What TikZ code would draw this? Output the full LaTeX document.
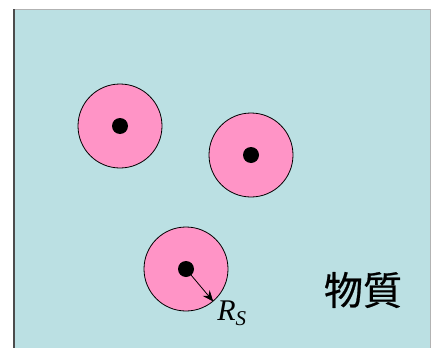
\documentclass[tikz,border=0pt]{standalone}
\usepackage{fontspec}
\setmainfont{Liberation Serif}
\newfontfamily\jpfont[FakeBold=0.6]{Noto Sans CJK JP}
\usetikzlibrary{arrows.meta}
\definecolor{matter}{RGB}{187,224,227}
\definecolor{shell}{RGB}{255,148,198}
\tikzset{
	shellball/.style={circle, draw=black, fill=shell, line width=0.8pt, minimum size=84pt, inner sep=0pt},
	core/.style={circle, fill=black, minimum size=16pt, inner sep=0pt},
}
\begin{document}
\begin{tikzpicture}[x=1pt, y=-1pt, >={Stealth[length=11pt,width=9pt]}, line join=round]
	\useasboundingbox (0,0) rectangle (431,348);
	\fill[matter] (14,9) rectangle (430,350);
	\draw[color=gray!60, line width=1pt] (14,9) -- (430,9) -- (430,350);
	\draw[color=black!70, line width=1.5pt] (14,9) -- (14,350);
	% three spheres
	\node[shellball] (s1) at (120,126) {};
	\node[shellball] (s2) at (251,155) {};
	\node[shellball] (s3) at (186,269) {};
	\node[core] (c1) at (s1.center) {};
	\node[core] (c2) at (s2.center) {};
	\node[core] (c3) at (s3.center) {};
	\coordinate (rim) at (s3.-50);
	\draw[->, line width=0.8pt] (c3.center) -- (rim);
	\node[font=\fontsize{30}{32}\selectfont\itshape] (rs) at (232,313) {R\textsubscript{\fontsize{21}{23}\selectfont S}};
	\node[font=\jpfont\fontsize{39}{41}\selectfont] (matter) at (363,290) {物質};
\end{tikzpicture}
\end{document}
